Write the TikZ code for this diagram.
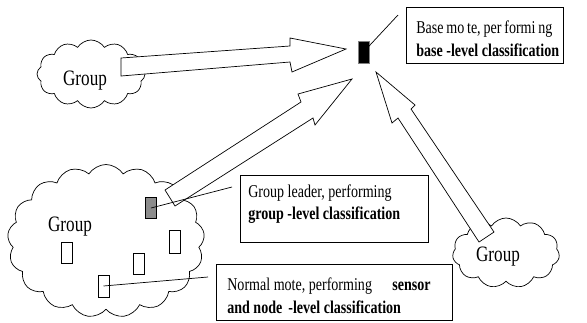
\documentclass[tikz,border=0pt]{standalone}
\usepackage{fontspec}
\setmainfont{Liberation Serif}[FakeStretch=0.78]
\usetikzlibrary{shapes.symbols}
\begin{document}
\begin{tikzpicture}[x=1pt,y=-1pt,line width=0.7pt,
  cloudy/.style={cloud,draw,cloud puffs=#1,cloud puff arc=115,inner sep=0pt},
  blockarrow/.style={draw,fill=white,line join=miter},
  labelbox/.style={draw,rectangle,inner sep=0pt,anchor=north west},
  mote/.style={draw,rectangle,inner sep=0pt,minimum width=11pt,minimum height=21pt,fill=white},
  grouptext/.style={font=\fontsize{22}{24}\selectfont},
  boxtext/.style={font=\fontsize{18}{22.5}\selectfont,align=left,anchor=west,inner sep=0pt}
]
\useasboundingbox (0,0) rectangle (587,322);
% clouds
\node[cloudy=12,minimum width=108pt,minimum height=68pt,aspect=1.6] (c1) at (91,74) {};
\node[cloudy=11,minimum width=107pt,minimum height=70pt,aspect=1.5] (c3) at (506,253) {};
\node[cloudy=17,minimum width=197pt,minimum height=153pt,aspect=1.29] (c2) at (106,241) {};
\node[grouptext] (g1) at (85,81) {Group};
\node[grouptext] (g2) at (70,227) {Group};
\node[grouptext] (g3) at (498,257) {Group};
% block arrows
\draw[blockarrow] (121,58) -- (290,46) -- (290,38) -- (346,49) -- (292,72) -- (290,62) -- (121,76) -- cycle;
\draw[blockarrow] (165,190) -- (301,102) -- (298,94) -- (352,79) -- (315,125) -- (313,118) -- (175,206) -- cycle;
\draw[blockarrow] (494,232) -- (411,109) -- (415,105) -- (376,72) -- (392,123) -- (398,118) -- (479,242) -- cycle;
% motes
\node[mote,fill=black,draw=gray,minimum height=22pt] (bmote) at (363.5,52) {};
\node[mote,fill=gray!90] (glmote) at (151,208) {};
\node[mote] (m1) at (67,252.5) {};
\node[mote] (m2) at (139,263.5) {};
\node[mote,minimum height=23pt] (m3) at (174.5,241.5) {};
\node[mote,minimum height=22pt] (nmote) at (103.5,286) {};
% label boxes
\node[labelbox,minimum width=157pt,minimum height=56pt] (bbox) at (406,7) {};
\node[boxtext] (btext) at (416,38.5) {\makebox[136pt][s]{Base mo te, per formi ng}\\\textbf{base -level classification}};
\node[labelbox,minimum width=188pt,minimum height=67pt] (glbox) at (240,175) {};
\node[boxtext] (gltext) at (248,204) {Group leader, performing\\\textbf{group -level classification}};
\node[labelbox,minimum width=236pt,minimum height=56pt] (nbox) at (216,264) {};
\node[boxtext] (ntext) at (227,295.5) {\makebox[165pt][l]{Normal mote, performing}\textbf{sensor}\\\textbf{\makebox[61pt][l]{and node}-level classification}};
% connectors
\coordinate (bend) at (398,15);
\coordinate (glend) at (232,187);
\coordinate (nend) at (208,277);
\draw (bmote.center) -- (bend);
\draw (glmote.center) -- (glend);
\draw (nmote.center) -- (nend);
\end{tikzpicture}
\end{document}
